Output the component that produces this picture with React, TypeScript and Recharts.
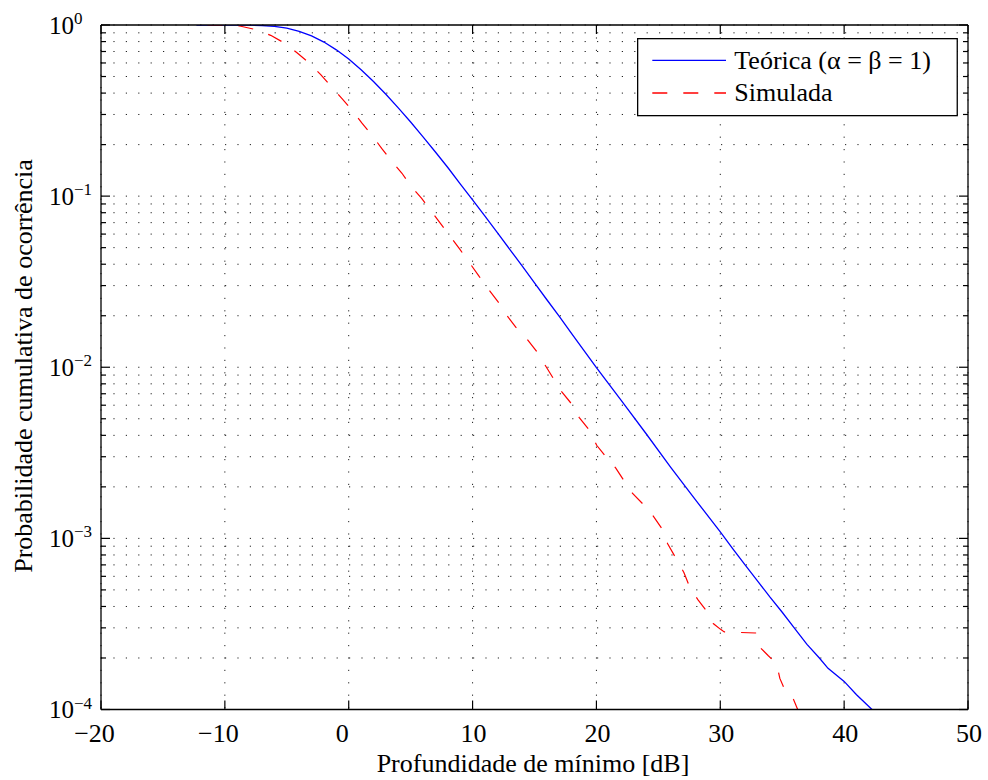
import React from 'react';
import { LineChart, Line, XAxis, YAxis, CartesianGrid, Legend } from 'recharts';

const FONT = "'Liberation Serif', 'Times New Roman', Times, serif";
const TXT = { fontFamily: FONT };

// ---- data ----
const theoX = [-12.3, -10, -9, -8, -7, -6, -5, -4, -3, -2, -1, 0, 1, 2, 3, 4, 5, 6, 7, 8, 9, 10, 11, 12, 13, 14, 15, 16, 17, 18, 19, 20, 22, 24, 26, 28, 30, 31, 32, 33, 34, 35, 36, 37, 38, 38.7, 40, 41, 42.25];
const theoP = [1, 0.99995, 0.9997, 0.9982, 0.9932, 0.981, 0.958, 0.919, 0.864, 0.795, 0.716, 0.632, 0.548, 0.468, 0.394, 0.328, 0.271, 0.222, 0.181, 0.147, 0.118, 0.0952, 0.0765, 0.0612, 0.0489, 0.0391, 0.0311, 0.0248, 0.0198, 0.0157, 0.0125, 0.00995, 0.0064, 0.0041, 0.0026, 0.00168, 0.00109, 0.00087, 0.0007, 0.000565, 0.000455, 0.00037, 0.000298, 0.00024, 0.0002, 0.000174, 0.000146, 0.000122, 0.0001];

const simX = [-11.4, -10, -8.8, -7.6, -6.3, -5.2, -4.2, -3.2, -2.26, -1.43, -0.54, 0.26, 1.07, 1.88, 2.66, 3.41, 4.3, 5.0, 5.89, 6.64, 7.45, 8.18, 8.98, 9.73, 10.46, 11.22, 12.03, 12.7, 13.5, 14.37, 15.17, 15.85, 16.52, 17.19, 18, 18.6, 19.42, 20.02, 20.77, 21.55, 22.25, 22.92, 23.86, 24.59, 25.32, 25.75, 26.4, 27.07, 27.55, 28.22, 28.9, 29.43, 30.0, 30.32, 32.85, 33.15, 33.88, 34.55, 34.81, 35.22, 35.9, 36.25];
const simP = [1, 0.999, 0.987, 0.944, 0.87, 0.785, 0.69, 0.6, 0.513, 0.438, 0.371, 0.318, 0.267, 0.227, 0.19, 0.162, 0.136, 0.115, 0.097, 0.082, 0.0686, 0.0583, 0.0488, 0.041, 0.0345, 0.0289, 0.0243, 0.0204, 0.0171, 0.0147, 0.0124, 0.0103, 0.0086, 0.0072, 0.0061, 0.0051, 0.0043, 0.0035, 0.003, 0.00258, 0.00216, 0.00183, 0.00156, 0.00135, 0.00113, 0.00093, 0.00077, 0.00063, 0.000514, 0.000436, 0.000376, 0.000318, 0.000295, 0.000284, 0.00028, 0.000233, 0.000206, 0.000185, 0.000152, 0.00013, 0.000115, 0.0001];

const seriesNames = ['Teórica (α = β = 1)', 'Simulada'];
const seriesColors = ['#0000ff', '#ff0000'];

const xTicks = [-20, -10, 0, 10, 20, 30, 40, 50];
const yMajorTicks = [1e-4, 1e-3, 1e-2, 1e-1, 1];
const yExponentLabels = ['−4', '−3', '−2', '−1', '0'];
const yMinorMultipliers = [2, 3, 4, 5, 6, 7, 8, 9];

const xLabel = 'Profundidade de mínimo [dB]';
const yLabel = 'Probabilidade cumulativa de ocorrência';

// ---- derived ----
const theoData = theoX.map((x, i) => ({ x, p: theoP[i] }));
const simData = simX.map((x, i) => ({ x, p: simP[i] }));
const yAllTicks: number[] = [];
yMajorTicks.forEach((m, i) => {
  yAllTicks.push(m);
  if (i < yMajorTicks.length - 1) yMinorMultipliers.forEach((k) => yAllTicks.push(+(m * k).toPrecision(6)));
});
const majorIndex = (v: number) => yMajorTicks.findIndex((m) => Math.abs(v / m - 1) < 1e-6);

const TICK_W = 1.2;

const BottomTick = (props: any) => {
  const { x, y, payload } = props;
  const v = payload.value;
  const label = v < 0 ? '−' + Math.abs(v) : String(v);
  const dx = v <= 0 ? -6.5 : 1;
  return (
    <g>
      <line x1={x} x2={x} y1={y} y2={y - 9} stroke="#000" strokeWidth={TICK_W} />
      <text x={x + dx} y={y + 32} textAnchor="middle" fontSize={26} fontFamily={FONT} style={TXT} fill="#000">{label}</text>
    </g>
  );
};

const TopTick = (props: any) => {
  const { x, y } = props;
  return <line x1={x} x2={x} y1={y} y2={y + 9} stroke="#000" strokeWidth={TICK_W} />;
};

const LeftTick = (props: any) => {
  const { x, y, payload } = props;
  const mi = majorIndex(payload.value);
  const len = mi >= 0 ? 9 : 5;
  return (
    <g>
      <line x1={x} x2={x + len} y1={y} y2={y} stroke="#000" strokeWidth={TICK_W} />
      {mi >= 0 && (
        <text x={x - 52} y={y + 8.5} fontSize={25} fontFamily={FONT} style={TXT} fill="#000">
          10<tspan dy={-9.5} fontSize={17}>{yExponentLabels[mi]}</tspan>
        </text>
      )}
    </g>
  );
};

const RightTick = (props: any) => {
  const { x, y, payload } = props;
  const mi = majorIndex(payload.value);
  const len = mi >= 0 ? 9 : 5;
  return <line x1={x} x2={x - len} y1={y} y2={y} stroke="#000" strokeWidth={TICK_W} />;
};

const LegendBox = () => (
  <svg width={322} height={79} style={{ display: 'block', fontFamily: FONT }}>
    <rect x={0.65} y={0.65} width={319.6} height={77} fill="#fff" stroke="#000" strokeWidth={1.3} />
    {seriesNames.map((name, i) => {
      const cy = 22.4 + i * 32.6;
      return (
        <g key={name}>
          <line x1={15.3} x2={89} y1={cy} y2={cy} stroke={seriesColors[i]} strokeWidth={1.3}
            strokeDasharray={i === 1 ? '15 16' : undefined} />
          <text x={97.3} y={cy + 8.3} fontSize={26} fontFamily={FONT} style={TXT} fill="#000">{name}</text>
        </g>
      );
    })}
  </svg>
);

export default function App() {
  return (
    <div style={{ position: 'absolute', left: 0, top: 0, width: 988, height: 780, background: '#fff', fontFamily: FONT }}>
      <LineChart width={988} height={780} margin={{ top: 20, right: 10, bottom: 20, left: 0 }} style={TXT}>
        <CartesianGrid stroke="#222" strokeWidth={1} strokeDasharray="1.2 11.2" horizontal vertical />
        <XAxis xAxisId={0} dataKey="x" type="number" domain={[-20, 50]} ticks={xTicks} allowDataOverflow
          height={50.5} orientation="bottom" tickSize={0} tickMargin={0} tickLine={false}
          axisLine={{ stroke: '#000', strokeWidth: 1.3 }} tick={<BottomTick />} interval={0}
          label={{ content: () => (
            <text x={533} y={772} textAnchor="middle" fontSize={26} fontFamily={FONT} style={TXT} fill="#000">{xLabel}</text>
          ) }} />
        <XAxis xAxisId="top" dataKey="x" type="number" domain={[-20, 50]} ticks={xTicks} allowDataOverflow
          height={5} orientation="top" tickSize={0} tickMargin={0} tickLine={false}
          axisLine={{ stroke: '#000', strokeWidth: 1.3 }} tick={<TopTick />} interval={0} />
        <YAxis yAxisId={0} type="number" scale="log" domain={[1e-4, 1]} ticks={yAllTicks} allowDataOverflow
          width={101} orientation="left" tickSize={0} tickMargin={0} tickLine={false}
          axisLine={{ stroke: '#000', strokeWidth: 1.3 }} tick={<LeftTick />} interval={0}
          label={{ content: () => (
            <text x={31.5} y={366} transform="rotate(-90 31.5 366)" textAnchor="middle" fontSize={26}
              fontFamily={FONT} style={TXT} fill="#000">{yLabel}</text>
          ) }} />
        <YAxis yAxisId="right" type="number" scale="log" domain={[1e-4, 1]} ticks={yAllTicks} allowDataOverflow
          width={10} orientation="right" tickSize={0} tickMargin={0} tickLine={false}
          axisLine={{ stroke: '#000', strokeWidth: 1.3 }} tick={<RightTick />} interval={0} />
        <Line data={theoData} dataKey="p" name={seriesNames[0]} xAxisId={0} yAxisId={0} type="linear"
          stroke={seriesColors[0]} strokeWidth={1.3} dot={false} activeDot={false} isAnimationActive={false} />
        <Line data={simData} dataKey="p" name={seriesNames[1]} xAxisId={0} yAxisId={0} type="linear"
          stroke={seriesColors[1]} strokeWidth={1.2} strokeDasharray="15 16" dot={false} activeDot={false}
          isAnimationActive={false} />
        <Legend layout="horizontal" verticalAlign="middle" align="center" content={<LegendBox />}
          wrapperStyle={{ left: 637, top: 38, width: 322, height: 79 }} />
      </LineChart>
    </div>
  );
}
